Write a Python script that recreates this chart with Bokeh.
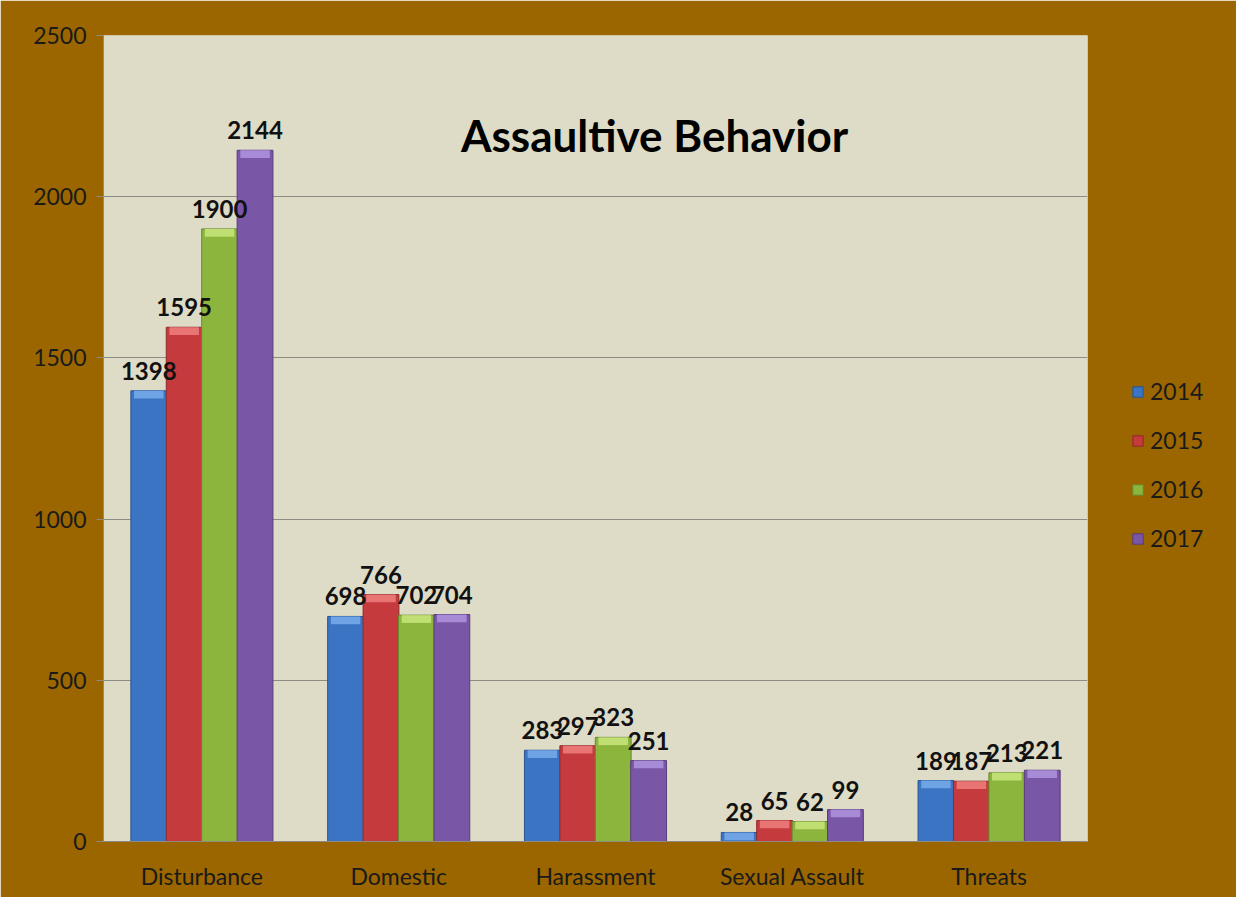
from bokeh.plotting import figure
from bokeh.models import ColumnDataSource, FactorRange, Range1d, Label, Legend, LegendItem, LabelSet, FixedTicker
from bokeh.transform import dodge
from bokeh.core.properties import value
from bokeh.embed import file_html
from bokeh.resources import INLINE

categories = ["Disturbance", "Domestic", "Harassment", "Sexual Assault", "Threats"]
years = ["2014", "2015", "2016", "2017"]
v2014 = [1398, 698, 283, 28, 189]
v2015 = [1595, 766, 297, 65, 187]
v2016 = [1900, 702, 323, 62, 213]
v2017 = [2144, 704, 251, 99, 221]
y_ticks = [0, 500, 1000, 1500, 2000, 2500]
title_text = "Assaultive Behavior"

colors = ["#3b74c2", "#c53a3c", "#8cb53e", "#7a56a6"]
tops = ["#6ea3e6", "#e97474", "#c0df72", "#a88bd6"]
edges = ["#2a5590", "#902a2c", "#66882c", "#583d7c"]
offsets = [-0.27, -0.09, 0.09, 0.27]
series = [v2014, v2015, v2016, v2017]
BEVEL = 24  # highlight depth in data units

FONT = "Lato"
BG = "#9b6600"

p = figure(frame_width=984, frame_height=806, x_range=FactorRange(*categories, range_padding=0),
           y_range=Range1d(0, 2500), output_backend="svg", toolbar_location=None,
           min_border_left=103, min_border_right=141, min_border_top=35, min_border_bottom=56)
p.background_fill_color = "#dedbc6"
p.border_fill_color = BG
p.outline_line_color = None

data = dict(cat=categories)
for yr, vals in zip(years, series):
    data["y" + yr] = vals
    data["b" + yr] = [max(v - BEVEL, 0) for v in vals]
    data["l" + yr] = [str(v) for v in vals]
src = ColumnDataSource(data)

items = []
for i, yr in enumerate(years):
    xs = dodge("cat", offsets[i], range=p.x_range)
    r = p.vbar(x=xs, top="y" + yr, width=0.182, source=src,
               fill_color=colors[i], line_color=edges[i], line_width=1)
    p.vbar(x=xs, top="y" + yr, bottom="b" + yr, width=0.15, source=src,
           fill_color=tops[i], line_color=None)
    items.append(LegendItem(label=yr, renderers=[r]))
    lab = LabelSet(x=xs, y="y" + yr, text="l" + yr, source=src,
                   text_align="center", text_baseline="bottom", y_offset=11,
                   text_font=value(FONT), text_font_style="bold", text_font_size="24px",
                   text_color="#111111")
    p.add_layout(lab)

p.add_layout(Label(x=2.8, y=2190, text=title_text, text_align="center", text_baseline="middle",
                   text_font=FONT, text_font_style="bold", text_font_size="44px",
                   text_color="#000000"))

p.xgrid.grid_line_color = None
p.ygrid.grid_line_color = "#8e8c82"
p.ygrid.grid_line_width = 1
p.yaxis.ticker = FixedTicker(ticks=y_ticks)
for ax in (p.xaxis[0], p.yaxis[0]):
    ax.axis_line_color = "#8e8c82"
    ax.major_tick_line_color = "#8e8c82"
    ax.minor_tick_line_color = None
    ax.major_label_text_font = FONT
    ax.major_label_text_font_size = "23px"
    ax.major_label_text_color = "#1a1a1a"
p.yaxis.major_tick_out = 7
p.yaxis.major_tick_in = 0
p.yaxis.major_label_standoff = 10
p.xaxis.major_tick_out = 0
p.xaxis.major_tick_in = 0
p.xaxis.major_label_standoff = 20

legend = Legend(items=items, location=(44, 289), orientation="vertical",
                label_text_font=FONT, label_text_font_size="23px", label_text_color="#1a1a1a",
                glyph_width=13, glyph_height=13, spacing=21, label_standoff=6,
                background_fill_alpha=0, border_line_color=None, margin=20, padding=0)
p.add_layout(legend, "right")

open("out.html", "w").write(file_html(p, INLINE))
